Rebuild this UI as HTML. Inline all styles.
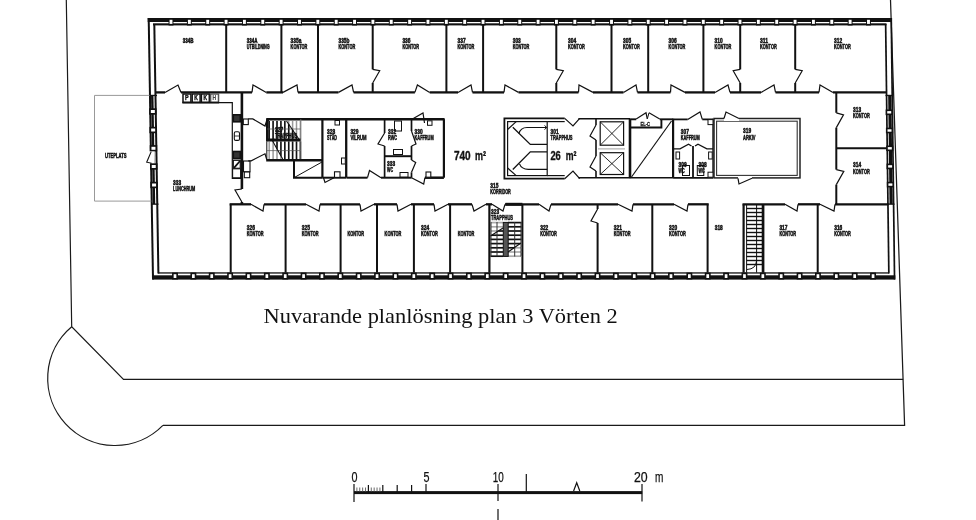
<!DOCTYPE html>
<html><head><meta charset="utf-8"><style>
html,body{margin:0;padding:0;background:#fff;}
svg{display:block;will-change:transform;}
</style></head><body>
<svg width="976" height="520" viewBox="0 0 976 520" style="font-family:'Liberation Sans',sans-serif">
<rect width="976" height="520" fill="#fff"/>
<path d="M66.3,0 L71.7,326.75 L123.5,379.4 L903.2,379.4" fill="none" stroke="#1a1a1a" stroke-width="1.2"/>
<path d="M890.5,0 L904.6,425.4 L162.9,425.4" fill="none" stroke="#1a1a1a" stroke-width="1.25"/>
<path d="M71.7,326.75 A67.25 67.25 0 1 0 162.9,425.4" fill="none" stroke="#1a1a1a" stroke-width="1.2"/>
<rect x="147.7" y="18" width="744.3" height="4" fill="#111"/>
<rect x="153" y="23.3" width="733.5" height="2.1" fill="#111"/>
<rect x="168.55" y="18.35" width="4.9" height="7.15" fill="#111"/>
<rect x="169.55" y="19.8" width="2.9" height="4.1" fill="#fff"/>
<rect x="186.91" y="18.35" width="4.9" height="7.15" fill="#111"/>
<rect x="187.91" y="19.8" width="2.9" height="4.1" fill="#fff"/>
<rect x="205.26" y="18.35" width="4.9" height="7.15" fill="#111"/>
<rect x="206.26" y="19.8" width="2.9" height="4.1" fill="#fff"/>
<rect x="223.62" y="18.35" width="4.9" height="7.15" fill="#111"/>
<rect x="224.62" y="19.8" width="2.9" height="4.1" fill="#fff"/>
<rect x="241.97" y="18.35" width="4.9" height="7.15" fill="#111"/>
<rect x="242.97" y="19.8" width="2.9" height="4.1" fill="#fff"/>
<rect x="260.32" y="18.35" width="4.9" height="7.15" fill="#111"/>
<rect x="261.32" y="19.8" width="2.9" height="4.1" fill="#fff"/>
<rect x="278.68" y="18.35" width="4.9" height="7.15" fill="#111"/>
<rect x="279.68" y="19.8" width="2.9" height="4.1" fill="#fff"/>
<rect x="297.04" y="18.35" width="4.9" height="7.15" fill="#111"/>
<rect x="298.04" y="19.8" width="2.9" height="4.1" fill="#fff"/>
<rect x="315.39" y="18.35" width="4.9" height="7.15" fill="#111"/>
<rect x="316.39" y="19.8" width="2.9" height="4.1" fill="#fff"/>
<rect x="333.75" y="18.35" width="4.9" height="7.15" fill="#111"/>
<rect x="334.75" y="19.8" width="2.9" height="4.1" fill="#fff"/>
<rect x="352.1" y="18.35" width="4.9" height="7.15" fill="#111"/>
<rect x="353.1" y="19.8" width="2.9" height="4.1" fill="#fff"/>
<rect x="370.45" y="18.35" width="4.9" height="7.15" fill="#111"/>
<rect x="371.45" y="19.8" width="2.9" height="4.1" fill="#fff"/>
<rect x="388.81" y="18.35" width="4.9" height="7.15" fill="#111"/>
<rect x="389.81" y="19.8" width="2.9" height="4.1" fill="#fff"/>
<rect x="407.17" y="18.35" width="4.9" height="7.15" fill="#111"/>
<rect x="408.17" y="19.8" width="2.9" height="4.1" fill="#fff"/>
<rect x="425.52" y="18.35" width="4.9" height="7.15" fill="#111"/>
<rect x="426.52" y="19.8" width="2.9" height="4.1" fill="#fff"/>
<rect x="443.88" y="18.35" width="4.9" height="7.15" fill="#111"/>
<rect x="444.88" y="19.8" width="2.9" height="4.1" fill="#fff"/>
<rect x="462.23" y="18.35" width="4.9" height="7.15" fill="#111"/>
<rect x="463.23" y="19.8" width="2.9" height="4.1" fill="#fff"/>
<rect x="480.59" y="18.35" width="4.9" height="7.15" fill="#111"/>
<rect x="481.59" y="19.8" width="2.9" height="4.1" fill="#fff"/>
<rect x="498.94" y="18.35" width="4.9" height="7.15" fill="#111"/>
<rect x="499.94" y="19.8" width="2.9" height="4.1" fill="#fff"/>
<rect x="517.29" y="18.35" width="4.9" height="7.15" fill="#111"/>
<rect x="518.29" y="19.8" width="2.9" height="4.1" fill="#fff"/>
<rect x="535.65" y="18.35" width="4.9" height="7.15" fill="#111"/>
<rect x="536.65" y="19.8" width="2.9" height="4.1" fill="#fff"/>
<rect x="554" y="18.35" width="4.9" height="7.15" fill="#111"/>
<rect x="555" y="19.8" width="2.9" height="4.1" fill="#fff"/>
<rect x="572.36" y="18.35" width="4.9" height="7.15" fill="#111"/>
<rect x="573.36" y="19.8" width="2.9" height="4.1" fill="#fff"/>
<rect x="590.71" y="18.35" width="4.9" height="7.15" fill="#111"/>
<rect x="591.71" y="19.8" width="2.9" height="4.1" fill="#fff"/>
<rect x="609.07" y="18.35" width="4.9" height="7.15" fill="#111"/>
<rect x="610.07" y="19.8" width="2.9" height="4.1" fill="#fff"/>
<rect x="627.42" y="18.35" width="4.9" height="7.15" fill="#111"/>
<rect x="628.42" y="19.8" width="2.9" height="4.1" fill="#fff"/>
<rect x="645.78" y="18.35" width="4.9" height="7.15" fill="#111"/>
<rect x="646.78" y="19.8" width="2.9" height="4.1" fill="#fff"/>
<rect x="664.13" y="18.35" width="4.9" height="7.15" fill="#111"/>
<rect x="665.13" y="19.8" width="2.9" height="4.1" fill="#fff"/>
<rect x="682.49" y="18.35" width="4.9" height="7.15" fill="#111"/>
<rect x="683.49" y="19.8" width="2.9" height="4.1" fill="#fff"/>
<rect x="700.84" y="18.35" width="4.9" height="7.15" fill="#111"/>
<rect x="701.84" y="19.8" width="2.9" height="4.1" fill="#fff"/>
<rect x="719.2" y="18.35" width="4.9" height="7.15" fill="#111"/>
<rect x="720.2" y="19.8" width="2.9" height="4.1" fill="#fff"/>
<rect x="737.55" y="18.35" width="4.9" height="7.15" fill="#111"/>
<rect x="738.55" y="19.8" width="2.9" height="4.1" fill="#fff"/>
<rect x="755.91" y="18.35" width="4.9" height="7.15" fill="#111"/>
<rect x="756.91" y="19.8" width="2.9" height="4.1" fill="#fff"/>
<rect x="774.26" y="18.35" width="4.9" height="7.15" fill="#111"/>
<rect x="775.26" y="19.8" width="2.9" height="4.1" fill="#fff"/>
<rect x="792.62" y="18.35" width="4.9" height="7.15" fill="#111"/>
<rect x="793.62" y="19.8" width="2.9" height="4.1" fill="#fff"/>
<rect x="810.98" y="18.35" width="4.9" height="7.15" fill="#111"/>
<rect x="811.98" y="19.8" width="2.9" height="4.1" fill="#fff"/>
<rect x="829.33" y="18.35" width="4.9" height="7.15" fill="#111"/>
<rect x="830.33" y="19.8" width="2.9" height="4.1" fill="#fff"/>
<rect x="847.68" y="18.35" width="4.9" height="7.15" fill="#111"/>
<rect x="848.68" y="19.8" width="2.9" height="4.1" fill="#fff"/>
<rect x="866.04" y="18.35" width="4.9" height="7.15" fill="#111"/>
<rect x="867.04" y="19.8" width="2.9" height="4.1" fill="#fff"/>
<rect x="158" y="272.3" width="731" height="1.3" fill="#111"/>
<rect x="152.3" y="275.3" width="743" height="4.3" fill="#111"/>
<rect x="172.05" y="272.6" width="5.9" height="6.9" fill="#111"/>
<rect x="173.65" y="274.2" width="2.7" height="3.8" fill="#fff"/>
<rect x="190.42" y="272.6" width="5.9" height="6.9" fill="#111"/>
<rect x="192.02" y="274.2" width="2.7" height="3.8" fill="#fff"/>
<rect x="208.79" y="272.6" width="5.9" height="6.9" fill="#111"/>
<rect x="210.39" y="274.2" width="2.7" height="3.8" fill="#fff"/>
<rect x="227.16" y="272.6" width="5.9" height="6.9" fill="#111"/>
<rect x="228.76" y="274.2" width="2.7" height="3.8" fill="#fff"/>
<rect x="245.53" y="272.6" width="5.9" height="6.9" fill="#111"/>
<rect x="247.13" y="274.2" width="2.7" height="3.8" fill="#fff"/>
<rect x="263.9" y="272.6" width="5.9" height="6.9" fill="#111"/>
<rect x="265.5" y="274.2" width="2.7" height="3.8" fill="#fff"/>
<rect x="282.27" y="272.6" width="5.9" height="6.9" fill="#111"/>
<rect x="283.87" y="274.2" width="2.7" height="3.8" fill="#fff"/>
<rect x="300.64" y="272.6" width="5.9" height="6.9" fill="#111"/>
<rect x="302.24" y="274.2" width="2.7" height="3.8" fill="#fff"/>
<rect x="319.01" y="272.6" width="5.9" height="6.9" fill="#111"/>
<rect x="320.61" y="274.2" width="2.7" height="3.8" fill="#fff"/>
<rect x="337.38" y="272.6" width="5.9" height="6.9" fill="#111"/>
<rect x="338.98" y="274.2" width="2.7" height="3.8" fill="#fff"/>
<rect x="355.75" y="272.6" width="5.9" height="6.9" fill="#111"/>
<rect x="357.35" y="274.2" width="2.7" height="3.8" fill="#fff"/>
<rect x="374.12" y="272.6" width="5.9" height="6.9" fill="#111"/>
<rect x="375.72" y="274.2" width="2.7" height="3.8" fill="#fff"/>
<rect x="392.49" y="272.6" width="5.9" height="6.9" fill="#111"/>
<rect x="394.09" y="274.2" width="2.7" height="3.8" fill="#fff"/>
<rect x="410.86" y="272.6" width="5.9" height="6.9" fill="#111"/>
<rect x="412.46" y="274.2" width="2.7" height="3.8" fill="#fff"/>
<rect x="429.23" y="272.6" width="5.9" height="6.9" fill="#111"/>
<rect x="430.83" y="274.2" width="2.7" height="3.8" fill="#fff"/>
<rect x="447.6" y="272.6" width="5.9" height="6.9" fill="#111"/>
<rect x="449.2" y="274.2" width="2.7" height="3.8" fill="#fff"/>
<rect x="465.97" y="272.6" width="5.9" height="6.9" fill="#111"/>
<rect x="467.57" y="274.2" width="2.7" height="3.8" fill="#fff"/>
<rect x="484.34" y="272.6" width="5.9" height="6.9" fill="#111"/>
<rect x="485.94" y="274.2" width="2.7" height="3.8" fill="#fff"/>
<rect x="502.71" y="272.6" width="5.9" height="6.9" fill="#111"/>
<rect x="504.31" y="274.2" width="2.7" height="3.8" fill="#fff"/>
<rect x="521.08" y="272.6" width="5.9" height="6.9" fill="#111"/>
<rect x="522.68" y="274.2" width="2.7" height="3.8" fill="#fff"/>
<rect x="539.45" y="272.6" width="5.9" height="6.9" fill="#111"/>
<rect x="541.05" y="274.2" width="2.7" height="3.8" fill="#fff"/>
<rect x="557.82" y="272.6" width="5.9" height="6.9" fill="#111"/>
<rect x="559.42" y="274.2" width="2.7" height="3.8" fill="#fff"/>
<rect x="576.19" y="272.6" width="5.9" height="6.9" fill="#111"/>
<rect x="577.79" y="274.2" width="2.7" height="3.8" fill="#fff"/>
<rect x="594.56" y="272.6" width="5.9" height="6.9" fill="#111"/>
<rect x="596.16" y="274.2" width="2.7" height="3.8" fill="#fff"/>
<rect x="612.93" y="272.6" width="5.9" height="6.9" fill="#111"/>
<rect x="614.53" y="274.2" width="2.7" height="3.8" fill="#fff"/>
<rect x="631.3" y="272.6" width="5.9" height="6.9" fill="#111"/>
<rect x="632.9" y="274.2" width="2.7" height="3.8" fill="#fff"/>
<rect x="649.67" y="272.6" width="5.9" height="6.9" fill="#111"/>
<rect x="651.27" y="274.2" width="2.7" height="3.8" fill="#fff"/>
<rect x="668.04" y="272.6" width="5.9" height="6.9" fill="#111"/>
<rect x="669.64" y="274.2" width="2.7" height="3.8" fill="#fff"/>
<rect x="686.41" y="272.6" width="5.9" height="6.9" fill="#111"/>
<rect x="688.01" y="274.2" width="2.7" height="3.8" fill="#fff"/>
<rect x="704.78" y="272.6" width="5.9" height="6.9" fill="#111"/>
<rect x="706.38" y="274.2" width="2.7" height="3.8" fill="#fff"/>
<rect x="723.15" y="272.6" width="5.9" height="6.9" fill="#111"/>
<rect x="724.75" y="274.2" width="2.7" height="3.8" fill="#fff"/>
<rect x="741.52" y="272.6" width="5.9" height="6.9" fill="#111"/>
<rect x="743.12" y="274.2" width="2.7" height="3.8" fill="#fff"/>
<rect x="759.89" y="272.6" width="5.9" height="6.9" fill="#111"/>
<rect x="761.49" y="274.2" width="2.7" height="3.8" fill="#fff"/>
<rect x="778.26" y="272.6" width="5.9" height="6.9" fill="#111"/>
<rect x="779.86" y="274.2" width="2.7" height="3.8" fill="#fff"/>
<rect x="796.63" y="272.6" width="5.9" height="6.9" fill="#111"/>
<rect x="798.23" y="274.2" width="2.7" height="3.8" fill="#fff"/>
<rect x="815" y="272.6" width="5.9" height="6.9" fill="#111"/>
<rect x="816.6" y="274.2" width="2.7" height="3.8" fill="#fff"/>
<rect x="833.37" y="272.6" width="5.9" height="6.9" fill="#111"/>
<rect x="834.97" y="274.2" width="2.7" height="3.8" fill="#fff"/>
<rect x="851.74" y="272.6" width="5.9" height="6.9" fill="#111"/>
<rect x="853.34" y="274.2" width="2.7" height="3.8" fill="#fff"/>
<rect x="870.11" y="272.6" width="5.9" height="6.9" fill="#111"/>
<rect x="871.71" y="274.2" width="2.7" height="3.8" fill="#fff"/>
<polygon points="147.7,18 149.7,18 154,279.6 152,279.6" fill="#111"/>
<polygon points="153.3,24 155.3,24 159.4,273.5 157.4,273.5" fill="#111"/>
<polygon points="890.4,18 892.1,18 895.4,279.6 893.7,279.6" fill="#111"/>
<polygon points="884.8,24 886.5,24 889.7,273.5 888,273.5" fill="#111"/>
<polygon points="151.03,95.5 153.43,95.5 155.22,204 152.82,204" fill="#111"/>
<rect x="149.1" y="108.3" width="7.5" height="6.4" fill="#111"/>
<rect x="150.85" y="110" width="4" height="3" fill="#fff"/>
<rect x="149.4" y="126.8" width="7.5" height="6.4" fill="#111"/>
<rect x="151.15" y="128.5" width="4" height="3" fill="#fff"/>
<rect x="149.7" y="145.1" width="7.5" height="6.4" fill="#111"/>
<rect x="151.45" y="146.8" width="4" height="3" fill="#fff"/>
<rect x="150" y="163.3" width="7.5" height="6.4" fill="#111"/>
<rect x="151.75" y="165" width="4" height="3" fill="#fff"/>
<rect x="150.3" y="181.8" width="7.5" height="6.4" fill="#111"/>
<rect x="152.05" y="183.5" width="4" height="3" fill="#fff"/>
<rect x="149.5" y="94.8" width="7.5" height="1.3" fill="#111"/>
<rect x="151" y="203.5" width="7.5" height="1.3" fill="#111"/>
<rect x="149.3" y="151.3" width="5.2" height="12" fill="#fff"/>
<polyline points="151.2,151.6 146.7,162.2 151.6,163.2" stroke="#111" stroke-width="1.1" fill="none" stroke-linejoin="miter"/>
<polygon points="888.17,95.5 891.37,95.5 892.74,204 889.54,204" fill="#111"/>
<rect x="885.61" y="109.5" width="7.2" height="5.6" fill="#111"/>
<rect x="887.21" y="111.1" width="4" height="2.4" fill="#fff"/>
<rect x="885.91" y="127.7" width="7.2" height="5.6" fill="#111"/>
<rect x="887.51" y="129.3" width="4" height="2.4" fill="#fff"/>
<rect x="886.2" y="145.5" width="7.2" height="5.6" fill="#111"/>
<rect x="887.8" y="147.1" width="4" height="2.4" fill="#fff"/>
<rect x="886.5" y="163.6" width="7.2" height="5.6" fill="#111"/>
<rect x="888.1" y="165.2" width="4" height="2.4" fill="#fff"/>
<rect x="886.8" y="181.8" width="7.2" height="5.6" fill="#111"/>
<rect x="888.4" y="183.4" width="4" height="2.4" fill="#fff"/>
<rect x="885.5" y="94.8" width="7.5" height="1.3" fill="#111"/>
<rect x="887" y="203.5" width="7.5" height="1.3" fill="#111"/>
<line x1="155.5" y1="92.4" x2="165" y2="92.4" stroke="#111" stroke-width="2.3"/>
<polyline points="165,92.4 178,85 181,92.4" stroke="#111" stroke-width="1.2" fill="none" stroke-linejoin="miter"/>
<line x1="181" y1="92.4" x2="252" y2="92.4" stroke="#111" stroke-width="2.3"/>
<polyline points="252,92.4 253,85 266.3,92.4" stroke="#111" stroke-width="1.2" fill="none" stroke-linejoin="miter"/>
<line x1="266.3" y1="92.4" x2="283" y2="92.4" stroke="#111" stroke-width="2.3"/>
<polyline points="283,92.4 297,85 298,92.4" stroke="#111" stroke-width="1.2" fill="none" stroke-linejoin="miter"/>
<line x1="298" y1="92.4" x2="338.5" y2="92.4" stroke="#111" stroke-width="2.3"/>
<polyline points="338.5,92.4 352,85 353.6,92.4" stroke="#111" stroke-width="1.2" fill="none" stroke-linejoin="miter"/>
<line x1="353.6" y1="92.4" x2="414.9" y2="92.4" stroke="#111" stroke-width="2.3"/>
<polyline points="414.9,92.4 417.4,85 429.7,92.4" stroke="#111" stroke-width="1.2" fill="none" stroke-linejoin="miter"/>
<line x1="429.7" y1="92.4" x2="458" y2="92.4" stroke="#111" stroke-width="2.3"/>
<polyline points="458,92.4 471,85 472.5,92.4" stroke="#111" stroke-width="1.2" fill="none" stroke-linejoin="miter"/>
<line x1="472.5" y1="92.4" x2="504" y2="92.4" stroke="#111" stroke-width="2.3"/>
<polyline points="504,92.4 505,85 518.5,92.4" stroke="#111" stroke-width="1.2" fill="none" stroke-linejoin="miter"/>
<line x1="518.5" y1="92.4" x2="578.5" y2="92.4" stroke="#111" stroke-width="2.3"/>
<polyline points="578.5,92.4 579,85 593,92.4" stroke="#111" stroke-width="1.2" fill="none" stroke-linejoin="miter"/>
<line x1="593" y1="92.4" x2="623.5" y2="92.4" stroke="#111" stroke-width="2.3"/>
<polyline points="623.5,92.4 636,85 637.5,92.4" stroke="#111" stroke-width="1.2" fill="none" stroke-linejoin="miter"/>
<line x1="637.5" y1="92.4" x2="670.5" y2="92.4" stroke="#111" stroke-width="2.3"/>
<polyline points="670.5,92.4 671,85 685,92.4" stroke="#111" stroke-width="1.2" fill="none" stroke-linejoin="miter"/>
<line x1="685" y1="92.4" x2="715" y2="92.4" stroke="#111" stroke-width="2.3"/>
<polyline points="715,92.4 728,85 730,92.4" stroke="#111" stroke-width="1.2" fill="none" stroke-linejoin="miter"/>
<line x1="730" y1="92.4" x2="761" y2="92.4" stroke="#111" stroke-width="2.3"/>
<polyline points="761,92.4 774,85 775.5,92.4" stroke="#111" stroke-width="1.2" fill="none" stroke-linejoin="miter"/>
<line x1="775.5" y1="92.4" x2="819" y2="92.4" stroke="#111" stroke-width="2.3"/>
<polyline points="819,92.4 820,85 833,92.4" stroke="#111" stroke-width="1.2" fill="none" stroke-linejoin="miter"/>
<line x1="833" y1="92.4" x2="886" y2="92.4" stroke="#111" stroke-width="2.3"/>
<line x1="226.2" y1="24.5" x2="226.2" y2="92.4" stroke="#111" stroke-width="2"/>
<line x1="281.4" y1="24.5" x2="281.4" y2="92.4" stroke="#111" stroke-width="2"/>
<line x1="318" y1="24.5" x2="318" y2="92.4" stroke="#111" stroke-width="2"/>
<line x1="446.4" y1="24.5" x2="446.4" y2="92.4" stroke="#111" stroke-width="2"/>
<line x1="483.1" y1="24.5" x2="483.1" y2="92.4" stroke="#111" stroke-width="2"/>
<line x1="611.5" y1="24.5" x2="611.5" y2="92.4" stroke="#111" stroke-width="2"/>
<line x1="648.2" y1="24.5" x2="648.2" y2="92.4" stroke="#111" stroke-width="2"/>
<line x1="703.4" y1="24.5" x2="703.4" y2="92.4" stroke="#111" stroke-width="2"/>
<line x1="372.7" y1="24.5" x2="372.7" y2="69.4" stroke="#111" stroke-width="2"/>
<line x1="372.7" y1="83" x2="372.7" y2="92.4" stroke="#111" stroke-width="2"/>
<polyline points="372.7,69.4 379.7,70.7 372.7,83" stroke="#111" stroke-width="1.2" fill="none" stroke-linejoin="miter"/>
<line x1="556.3" y1="24.5" x2="556.3" y2="69.4" stroke="#111" stroke-width="2"/>
<line x1="556.3" y1="83" x2="556.3" y2="92.4" stroke="#111" stroke-width="2"/>
<polyline points="556.3,69.4 563.3,70.7 556.3,83" stroke="#111" stroke-width="1.2" fill="none" stroke-linejoin="miter"/>
<line x1="740.2" y1="24.5" x2="740.2" y2="69.4" stroke="#111" stroke-width="2"/>
<line x1="740.2" y1="83" x2="740.2" y2="92.4" stroke="#111" stroke-width="2"/>
<polyline points="740.2,69.4 733.2,70.7 740.2,83" stroke="#111" stroke-width="1.2" fill="none" stroke-linejoin="miter"/>
<line x1="795.2" y1="24.5" x2="795.2" y2="69.4" stroke="#111" stroke-width="2"/>
<line x1="795.2" y1="83" x2="795.2" y2="92.4" stroke="#111" stroke-width="2"/>
<polyline points="795.2,69.4 802.2,70.7 795.2,83" stroke="#111" stroke-width="1.2" fill="none" stroke-linejoin="miter"/>
<line x1="229.6" y1="204.3" x2="251" y2="204.3" stroke="#111" stroke-width="2.3"/>
<polyline points="251,204.3 263,211 264,204.3" stroke="#111" stroke-width="1.2" fill="none" stroke-linejoin="miter"/>
<line x1="264" y1="204.3" x2="306" y2="204.3" stroke="#111" stroke-width="2.3"/>
<polyline points="306,204.3 319,211 320,204.3" stroke="#111" stroke-width="1.2" fill="none" stroke-linejoin="miter"/>
<line x1="320" y1="204.3" x2="360" y2="204.3" stroke="#111" stroke-width="2.3"/>
<polyline points="360,204.3 361,211 374,204.3" stroke="#111" stroke-width="1.2" fill="none" stroke-linejoin="miter"/>
<line x1="374" y1="204.3" x2="397" y2="204.3" stroke="#111" stroke-width="2.3"/>
<polyline points="397,204.3 398,211 411,204.3" stroke="#111" stroke-width="1.2" fill="none" stroke-linejoin="miter"/>
<line x1="411" y1="204.3" x2="434" y2="204.3" stroke="#111" stroke-width="2.3"/>
<polyline points="434,204.3 435,211 448,204.3" stroke="#111" stroke-width="1.2" fill="none" stroke-linejoin="miter"/>
<line x1="448" y1="204.3" x2="472" y2="204.3" stroke="#111" stroke-width="2.3"/>
<polyline points="472,204.3 474,211 486,204.3" stroke="#111" stroke-width="1.2" fill="none" stroke-linejoin="miter"/>
<line x1="486" y1="204.3" x2="492" y2="204.3" stroke="#111" stroke-width="2.3"/>
<polyline points="492,204.3 503,211 505,204.3" stroke="#111" stroke-width="1.2" fill="none" stroke-linejoin="miter"/>
<line x1="505" y1="204.3" x2="539" y2="204.3" stroke="#111" stroke-width="2.3"/>
<polyline points="539,204.3 549,211 551,204.3" stroke="#111" stroke-width="1.2" fill="none" stroke-linejoin="miter"/>
<line x1="551" y1="204.3" x2="618" y2="204.3" stroke="#111" stroke-width="2.3"/>
<polyline points="618,204.3 632,211 633,204.3" stroke="#111" stroke-width="1.2" fill="none" stroke-linejoin="miter"/>
<line x1="633" y1="204.3" x2="674" y2="204.3" stroke="#111" stroke-width="2.3"/>
<polyline points="674,204.3 687,211 688,204.3" stroke="#111" stroke-width="1.2" fill="none" stroke-linejoin="miter"/>
<line x1="688" y1="204.3" x2="708.7" y2="204.3" stroke="#111" stroke-width="2.3"/>
<line x1="742.5" y1="204.3" x2="785" y2="204.3" stroke="#111" stroke-width="2.3"/>
<polyline points="785,204.3 797,211 798,204.3" stroke="#111" stroke-width="1.2" fill="none" stroke-linejoin="miter"/>
<line x1="798" y1="204.3" x2="820" y2="204.3" stroke="#111" stroke-width="2.3"/>
<polyline points="820,204.3 834,211 835,204.3" stroke="#111" stroke-width="1.2" fill="none" stroke-linejoin="miter"/>
<line x1="835" y1="204.3" x2="888.5" y2="204.3" stroke="#111" stroke-width="2.3"/>
<line x1="230.7" y1="204.3" x2="230.7" y2="272.6" stroke="#111" stroke-width="2"/>
<line x1="285.6" y1="204.3" x2="285.6" y2="272.6" stroke="#111" stroke-width="2"/>
<line x1="340.6" y1="204.3" x2="340.6" y2="272.6" stroke="#111" stroke-width="2"/>
<line x1="377" y1="204.3" x2="377" y2="272.6" stroke="#111" stroke-width="2"/>
<line x1="413.9" y1="204.3" x2="413.9" y2="272.6" stroke="#111" stroke-width="2"/>
<line x1="450.1" y1="204.3" x2="450.1" y2="272.6" stroke="#111" stroke-width="2"/>
<line x1="522.4" y1="204.3" x2="522.4" y2="272.6" stroke="#111" stroke-width="2"/>
<line x1="652.3" y1="204.3" x2="652.3" y2="272.6" stroke="#111" stroke-width="2"/>
<line x1="707.6" y1="204.3" x2="707.6" y2="272.6" stroke="#111" stroke-width="2"/>
<line x1="763.4" y1="204.3" x2="763.4" y2="272.6" stroke="#111" stroke-width="2"/>
<line x1="817.7" y1="204.3" x2="817.7" y2="272.6" stroke="#111" stroke-width="2"/>
<line x1="597.6" y1="204.3" x2="597.6" y2="209" stroke="#111" stroke-width="2"/>
<line x1="597.6" y1="223" x2="597.6" y2="272.6" stroke="#111" stroke-width="2"/>
<polyline points="597.6,209 591,221 597.6,223" stroke="#111" stroke-width="1.2" fill="none" stroke-linejoin="miter"/>
<line x1="489.4" y1="204.3" x2="489.4" y2="272.6" stroke="#111" stroke-width="2.2"/>
<line x1="505.5" y1="204.3" x2="522.4" y2="204.3" stroke="#111" stroke-width="3"/>
<line x1="490.5" y1="222.6" x2="503" y2="222.6" stroke="#aaa" stroke-width="1.7"/>
<line x1="508" y1="222.6" x2="521.5" y2="222.6" stroke="#111" stroke-width="1.7"/>
<line x1="490.5" y1="226.8" x2="503" y2="226.8" stroke="#aaa" stroke-width="1.7"/>
<line x1="508" y1="226.8" x2="521.5" y2="226.8" stroke="#111" stroke-width="1.7"/>
<line x1="490.5" y1="231" x2="498.31" y2="231" stroke="#aaa" stroke-width="1.7"/>
<line x1="498.31" y1="231" x2="503" y2="231" stroke="#111" stroke-width="1.7"/>
<line x1="508" y1="231" x2="521.5" y2="231" stroke="#111" stroke-width="1.7"/>
<line x1="490.5" y1="235.2" x2="491.75" y2="235.2" stroke="#aaa" stroke-width="1.7"/>
<line x1="491.75" y1="235.2" x2="503" y2="235.2" stroke="#111" stroke-width="1.7"/>
<line x1="508" y1="235.2" x2="521.5" y2="235.2" stroke="#111" stroke-width="1.7"/>
<line x1="490.5" y1="239.4" x2="503" y2="239.4" stroke="#111" stroke-width="1.7"/>
<line x1="508" y1="239.4" x2="521.5" y2="239.4" stroke="#111" stroke-width="1.7"/>
<line x1="490.5" y1="243.6" x2="503" y2="243.6" stroke="#111" stroke-width="1.7"/>
<line x1="508" y1="243.6" x2="520.13" y2="243.6" stroke="#111" stroke-width="1.7"/>
<line x1="520.13" y1="243.6" x2="521.5" y2="243.6" stroke="#aaa" stroke-width="1.7"/>
<line x1="490.5" y1="247.8" x2="503" y2="247.8" stroke="#111" stroke-width="1.7"/>
<line x1="508" y1="247.8" x2="514.07" y2="247.8" stroke="#111" stroke-width="1.7"/>
<line x1="514.07" y1="247.8" x2="521.5" y2="247.8" stroke="#aaa" stroke-width="1.7"/>
<line x1="490.5" y1="252" x2="503" y2="252" stroke="#111" stroke-width="1.7"/>
<line x1="508" y1="252" x2="508" y2="252" stroke="#111" stroke-width="1.7"/>
<line x1="508" y1="252" x2="521.5" y2="252" stroke="#aaa" stroke-width="1.7"/>
<line x1="490.5" y1="256.2" x2="503" y2="256.2" stroke="#111" stroke-width="1.7"/>
<line x1="508" y1="256.2" x2="521.5" y2="256.2" stroke="#aaa" stroke-width="1.7"/>
<line x1="491" y1="222" x2="491" y2="256.5" stroke="#333" stroke-width="1"/>
<line x1="497" y1="222" x2="497" y2="256.5" stroke="#333" stroke-width="1"/>
<line x1="514.7" y1="222" x2="514.7" y2="256.5" stroke="#333" stroke-width="1"/>
<line x1="521" y1="222" x2="521" y2="256.5" stroke="#333" stroke-width="1"/>
<rect x="503.3" y="222.4" width="4.9" height="34" fill="#555" stroke="#111" stroke-width="1"/>
<line x1="490.5" y1="236" x2="503" y2="228" stroke="#111" stroke-width="1.1"/>
<line x1="508" y1="252" x2="521" y2="243" stroke="#111" stroke-width="1.1"/>
<line x1="743.6" y1="204.3" x2="743.6" y2="272.6" stroke="#111" stroke-width="2.2"/>
<line x1="746.6" y1="204.3" x2="746.6" y2="272.6" stroke="#111" stroke-width="1"/>
<line x1="756.6" y1="204.3" x2="756.6" y2="272.6" stroke="#111" stroke-width="1"/>
<line x1="746.6" y1="208.5" x2="762.5" y2="208.5" stroke="#111" stroke-width="1.4"/>
<line x1="746.6" y1="212.5" x2="762.5" y2="212.5" stroke="#111" stroke-width="1.4"/>
<line x1="746.6" y1="216.5" x2="762.5" y2="216.5" stroke="#111" stroke-width="1.4"/>
<line x1="746.6" y1="220.5" x2="762.5" y2="220.5" stroke="#111" stroke-width="1.4"/>
<line x1="746.6" y1="224.5" x2="762.5" y2="224.5" stroke="#111" stroke-width="1.4"/>
<line x1="746.6" y1="228.5" x2="762.5" y2="228.5" stroke="#111" stroke-width="1.4"/>
<line x1="746.6" y1="232.5" x2="762.5" y2="232.5" stroke="#111" stroke-width="1.4"/>
<line x1="746.6" y1="236.5" x2="762.5" y2="236.5" stroke="#111" stroke-width="1.4"/>
<line x1="746.6" y1="240.5" x2="762.5" y2="240.5" stroke="#111" stroke-width="1.4"/>
<line x1="746.6" y1="244.5" x2="762.5" y2="244.5" stroke="#111" stroke-width="1.4"/>
<line x1="746.6" y1="248.5" x2="762.5" y2="248.5" stroke="#111" stroke-width="1.4"/>
<line x1="746.6" y1="252.5" x2="762.5" y2="252.5" stroke="#111" stroke-width="1.4"/>
<line x1="746.6" y1="256.5" x2="762.5" y2="256.5" stroke="#111" stroke-width="1.4"/>
<line x1="746.6" y1="260.5" x2="762.5" y2="260.5" stroke="#111" stroke-width="1.4"/>
<line x1="746.6" y1="264.5" x2="762.5" y2="264.5" stroke="#111" stroke-width="1.4"/>
<line x1="762.7" y1="204.3" x2="762.7" y2="272.6" stroke="#111" stroke-width="2"/>
<path d="M747,269.5 Q756,269 756.5,261" fill="none" stroke="#111" stroke-width="1"/>
<line x1="836.3" y1="92.4" x2="836.3" y2="112.8" stroke="#111" stroke-width="2"/>
<line x1="836.3" y1="127.6" x2="836.3" y2="169.6" stroke="#111" stroke-width="2"/>
<line x1="836.3" y1="148.3" x2="886.5" y2="148.3" stroke="#111" stroke-width="2"/>
<line x1="836.3" y1="184.6" x2="836.3" y2="204.3" stroke="#111" stroke-width="2"/>
<polyline points="836.3,112.8 843.5,114.8 836.3,127.6" stroke="#111" stroke-width="1.2" fill="none" stroke-linejoin="miter"/>
<polyline points="836.3,169.6 843.8,171.3 836.3,184.6" stroke="#111" stroke-width="1.2" fill="none" stroke-linejoin="miter"/>
<line x1="241.9" y1="92.4" x2="241.9" y2="189" stroke="#111" stroke-width="2.6"/>
<line x1="241.9" y1="202" x2="241.9" y2="204.3" stroke="#111" stroke-width="2.6"/>
<polyline points="241.9,189 235,190 241.9,202" stroke="#111" stroke-width="1.2" fill="none" stroke-linejoin="miter"/>
<rect x="183" y="94" width="7.9" height="8.4" fill="#fff" stroke="#111" stroke-width="1.5"/>
<text x="185" y="100.4" font-family="Liberation Sans" font-size="6.4" font-weight="bold" fill="#111" stroke="#111" stroke-width="0.4" textLength="3.6" lengthAdjust="spacingAndGlyphs">P</text>
<rect x="192.2" y="94" width="7.9" height="8.4" fill="#fff" stroke="#111" stroke-width="1.5"/>
<text x="194.2" y="100.4" font-family="Liberation Sans" font-size="6.4" font-weight="bold" fill="#111" stroke="#111" stroke-width="0.4" textLength="3.6" lengthAdjust="spacingAndGlyphs">K</text>
<rect x="201.4" y="94" width="7.9" height="8.4" fill="#fff" stroke="#111" stroke-width="1.5"/>
<text x="203.4" y="100.4" font-family="Liberation Sans" font-size="6.4" font-weight="bold" fill="#111" stroke="#111" stroke-width="0.4" textLength="3.6" lengthAdjust="spacingAndGlyphs">K</text>
<rect x="210.6" y="94" width="7.9" height="8.4" fill="#fff" stroke="#555" stroke-width="1.5"/>
<text x="212.6" y="100.4" font-family="Liberation Sans" font-size="6.4" font-weight="bold" fill="#444" stroke="#444" stroke-width="0.2" textLength="3.6" lengthAdjust="spacingAndGlyphs">H</text>
<line x1="182.4" y1="102.6" x2="219" y2="102.6" stroke="#111" stroke-width="1.6"/>
<polyline points="219,102.6 232.3,102.6 232.3,178.4 241,178.4" stroke="#111" stroke-width="1.2" fill="none" stroke-linejoin="miter"/>
<rect x="233.3" y="114.8" width="7" height="7" fill="#333" stroke="#111" stroke-width="1.6"/>
<rect x="234.3" y="131.8" width="5.2" height="8.6" rx="1.5" fill="#fff" stroke="#111" stroke-width="1.1"/>
<line x1="234.3" y1="136" x2="239.5" y2="136" stroke="#111" stroke-width="0.8"/>
<rect x="233.3" y="151.5" width="7" height="7" fill="#333" stroke="#111" stroke-width="1.6"/>
<rect x="233.3" y="160.3" width="7" height="8" fill="#fff" stroke="#111" stroke-width="1.2"/>
<line x1="234" y1="167.8" x2="240" y2="161" stroke="#111" stroke-width="1.8"/>
<rect x="232.6" y="168.8" width="8" height="9" fill="#fff" stroke="#111" stroke-width="1.1"/>
<polyline points="149.5,95.4 94.5,95.4 94.5,201.1 151.3,201.1" fill="none" stroke="#999" stroke-width="1"/>
<line x1="266.2" y1="119.2" x2="444.6" y2="119.2" stroke="#111" stroke-width="2.5"/>
<line x1="267.5" y1="119.2" x2="267.5" y2="141" stroke="#111" stroke-width="3"/>
<line x1="266.8" y1="141" x2="266.8" y2="160" stroke="#111" stroke-width="1"/>
<line x1="269.2" y1="121" x2="269.2" y2="139.5" stroke="#999" stroke-width="1.5"/>
<line x1="269.2" y1="141.5" x2="269.2" y2="159" stroke="#999" stroke-width="1.5"/>
<line x1="269.2" y1="121" x2="269.2" y2="139.5" stroke="#111" stroke-width="1.5"/>
<line x1="273.1" y1="121" x2="273.1" y2="139.5" stroke="#999" stroke-width="1.5"/>
<line x1="273.1" y1="141.5" x2="273.1" y2="159" stroke="#999" stroke-width="1.5"/>
<line x1="273.1" y1="121" x2="273.1" y2="139.5" stroke="#111" stroke-width="1.5"/>
<line x1="273.1" y1="141.5" x2="273.1" y2="141.89" stroke="#111" stroke-width="1.5"/>
<line x1="277" y1="121" x2="277" y2="139.5" stroke="#999" stroke-width="1.5"/>
<line x1="277" y1="141.5" x2="277" y2="159" stroke="#999" stroke-width="1.5"/>
<line x1="277" y1="121" x2="277" y2="139.5" stroke="#111" stroke-width="1.5"/>
<line x1="277" y1="141.5" x2="277" y2="148.84" stroke="#111" stroke-width="1.5"/>
<line x1="280.9" y1="121" x2="280.9" y2="139.5" stroke="#999" stroke-width="1.5"/>
<line x1="280.9" y1="141.5" x2="280.9" y2="159" stroke="#999" stroke-width="1.5"/>
<line x1="280.9" y1="121" x2="280.9" y2="139.5" stroke="#111" stroke-width="1.5"/>
<line x1="280.9" y1="141.5" x2="280.9" y2="155.79" stroke="#111" stroke-width="1.5"/>
<line x1="284.8" y1="121" x2="284.8" y2="139.5" stroke="#999" stroke-width="1.5"/>
<line x1="284.8" y1="141.5" x2="284.8" y2="159" stroke="#999" stroke-width="1.5"/>
<line x1="284.8" y1="121" x2="284.8" y2="139.5" stroke="#111" stroke-width="1.5"/>
<line x1="284.8" y1="141.5" x2="284.8" y2="159" stroke="#111" stroke-width="1.5"/>
<line x1="288.7" y1="121" x2="288.7" y2="139.5" stroke="#999" stroke-width="1.5"/>
<line x1="288.7" y1="141.5" x2="288.7" y2="159" stroke="#999" stroke-width="1.5"/>
<line x1="288.7" y1="124.22" x2="288.7" y2="139.5" stroke="#111" stroke-width="1.5"/>
<line x1="288.7" y1="141.5" x2="288.7" y2="159" stroke="#111" stroke-width="1.5"/>
<line x1="292.6" y1="121" x2="292.6" y2="139.5" stroke="#999" stroke-width="1.5"/>
<line x1="292.6" y1="141.5" x2="292.6" y2="159" stroke="#999" stroke-width="1.5"/>
<line x1="292.6" y1="129.92" x2="292.6" y2="139.5" stroke="#111" stroke-width="1.5"/>
<line x1="292.6" y1="141.5" x2="292.6" y2="159" stroke="#111" stroke-width="1.5"/>
<line x1="296.5" y1="121" x2="296.5" y2="139.5" stroke="#999" stroke-width="1.5"/>
<line x1="296.5" y1="141.5" x2="296.5" y2="159" stroke="#999" stroke-width="1.5"/>
<line x1="296.5" y1="135.62" x2="296.5" y2="139.5" stroke="#111" stroke-width="1.5"/>
<line x1="296.5" y1="141.5" x2="296.5" y2="159" stroke="#111" stroke-width="1.5"/>
<line x1="300.4" y1="121" x2="300.4" y2="139.5" stroke="#999" stroke-width="1.5"/>
<line x1="300.4" y1="141.5" x2="300.4" y2="159" stroke="#999" stroke-width="1.5"/>
<line x1="300.4" y1="141.5" x2="300.4" y2="159" stroke="#111" stroke-width="1.5"/>
<line x1="267" y1="129" x2="301" y2="129" stroke="#555" stroke-width="0.7"/>
<line x1="267" y1="150.6" x2="301" y2="150.6" stroke="#555" stroke-width="0.7"/>
<line x1="267" y1="140" x2="301" y2="140" stroke="#111" stroke-width="2.8"/>
<line x1="300.8" y1="119.2" x2="300.8" y2="160" stroke="#777" stroke-width="0.9"/>
<line x1="266.2" y1="160.2" x2="323" y2="160.2" stroke="#111" stroke-width="2.4"/>
<line x1="286.5" y1="121" x2="299.5" y2="140" stroke="#111" stroke-width="1.1"/>
<line x1="272.6" y1="141" x2="282.7" y2="159" stroke="#111" stroke-width="1.1"/>
<line x1="322.4" y1="119.2" x2="322.4" y2="177.7" stroke="#111" stroke-width="2.2"/>
<polyline points="294,160.2 294,177.7 322.4,177.7" stroke="#111" stroke-width="2" fill="none" stroke-linejoin="miter"/>
<line x1="294" y1="177.7" x2="322" y2="162" stroke="#111" stroke-width="1"/>
<rect x="243.3" y="119" width="5" height="5.6" fill="#fff" stroke="#111" stroke-width="1.1"/>
<polyline points="248.2,118.9 252.8,118.9 265,126 266.6,121" stroke="#111" stroke-width="1.2" fill="none" stroke-linejoin="miter"/>
<rect x="243.5" y="161" width="6.5" height="10.8" fill="#fff" stroke="#111" stroke-width="1.1"/>
<rect x="244.3" y="172" width="5.4" height="5.7" fill="#fff" stroke="#111" stroke-width="1.1"/>
<polyline points="248.2,160.8 251.2,160.8 265,153.8 266.6,159" stroke="#111" stroke-width="1.2" fill="none" stroke-linejoin="miter"/>
<line x1="346.2" y1="119.2" x2="346.2" y2="177.7" stroke="#111" stroke-width="2.3"/>
<rect x="335" y="120.5" width="4.5" height="4.5" fill="#fff" stroke="#111" stroke-width="1"/>
<rect x="341.5" y="158" width="3.8" height="6" fill="#fff" stroke="#111" stroke-width="1"/>
<line x1="322.4" y1="177.7" x2="346.2" y2="177.7" stroke="#111" stroke-width="2"/>
<polyline points="323.5,177.7 325,182.5 334,177.7" stroke="#111" stroke-width="1.2" fill="none" stroke-linejoin="miter"/>
<rect x="334.5" y="171.8" width="5.5" height="5.6" fill="#fff" stroke="#111" stroke-width="1.1"/>
<line x1="384.6" y1="119.2" x2="384.6" y2="133" stroke="#111" stroke-width="1.7"/>
<line x1="384.6" y1="146" x2="384.6" y2="177.7" stroke="#111" stroke-width="1.7"/>
<polyline points="384.6,133 378,144 384.6,146" stroke="#111" stroke-width="1.2" fill="none" stroke-linejoin="miter"/>
<polyline points="346.5,177.7 367.5,177.7" stroke="#111" stroke-width="2" fill="none" stroke-linejoin="miter"/>
<polyline points="367.5,177.7 369.5,170.5 381,177.7" stroke="#111" stroke-width="1.2" fill="none" stroke-linejoin="miter"/>
<line x1="381" y1="177.7" x2="411.5" y2="177.7" stroke="#111" stroke-width="2"/>
<line x1="411.5" y1="119.2" x2="411.5" y2="131" stroke="#111" stroke-width="1.7"/>
<line x1="411.5" y1="146" x2="411.5" y2="160" stroke="#111" stroke-width="1.7"/>
<line x1="411.5" y1="172.3" x2="411.5" y2="177.7" stroke="#111" stroke-width="1.7"/>
<polyline points="411.5,131 416,144 411.5,146" stroke="#111" stroke-width="1.2" fill="none" stroke-linejoin="miter"/>
<line x1="384.6" y1="156.2" x2="411.5" y2="156.2" stroke="#111" stroke-width="2"/>
<rect x="394.5" y="121" width="7" height="10" fill="#fff" stroke="#111" stroke-width="1"/>
<rect x="393.5" y="149.5" width="9" height="5" fill="#fff" stroke="#111" stroke-width="1"/>
<rect x="400" y="172.5" width="8" height="4.5" fill="#fff" stroke="#111" stroke-width="1"/>
<polyline points="411.5,160 415.7,162.5 411.5,172.3" stroke="#111" stroke-width="1.2" fill="none" stroke-linejoin="miter"/>
<line x1="443.9" y1="119.2" x2="443.9" y2="177.7" stroke="#111" stroke-width="2.2"/>
<line x1="424.9" y1="177.7" x2="443.9" y2="177.7" stroke="#111" stroke-width="2.5"/>
<polyline points="412,119.2 423,113 424.5,123" stroke="#111" stroke-width="1.2" fill="none" stroke-linejoin="miter"/>
<polyline points="411.5,177.7 423.7,184 424.9,177.7" stroke="#111" stroke-width="1.2" fill="none" stroke-linejoin="miter"/>
<rect x="427.5" y="120.8" width="4.5" height="4.5" fill="#fff" stroke="#111" stroke-width="1"/>
<rect x="426" y="172" width="4.8" height="5.2" fill="#fff" stroke="#111" stroke-width="1.1"/>
<polyline points="564.7,118.4 504.4,118.4 504.4,178.7 564.7,178.7" stroke="#111" stroke-width="1.8" fill="none" stroke-linejoin="miter"/>
<rect x="507.6" y="121.6" width="39.6" height="54" fill="none" stroke="#111" stroke-width="1.2"/>
<line x1="547.2" y1="121.6" x2="564.7" y2="121.6" stroke="#111" stroke-width="1.2"/>
<line x1="547.2" y1="175.6" x2="564.7" y2="175.6" stroke="#111" stroke-width="1.2"/>
<polyline points="512.8,127.2 530.3,144.4 547,144.4" stroke="#111" stroke-width="1.3" fill="none" stroke-linejoin="miter"/>
<polyline points="512.8,169.5 530.3,151.9 547,151.9" stroke="#111" stroke-width="1.3" fill="none" stroke-linejoin="miter"/>
<line x1="507.6" y1="129.5" x2="516.2" y2="121.6" stroke="#111" stroke-width="1.2"/>
<line x1="507.6" y1="168" x2="516.2" y2="175.6" stroke="#111" stroke-width="1.2"/>
<path d="M518.9,133.6 Q520.5,127.5 527,127.5 L546.5,127.5" fill="none" stroke="#111" stroke-width="1.2"/>
<path d="M519.5,163.9 Q521.5,169.3 528.3,169.3 L547.2,169.3" fill="none" stroke="#111" stroke-width="1.2"/>
<polyline points="544.5,125.5 546.8,127.5 544.5,129.5" stroke="#111" stroke-width="1" fill="none" stroke-linejoin="miter"/>
<polyline points="564.7,118.4 573,126 579.7,118.4" stroke="#111" stroke-width="1.2" fill="none" stroke-linejoin="miter"/>
<polyline points="564.7,178.7 573,171 579.7,178.7" stroke="#111" stroke-width="1.2" fill="none" stroke-linejoin="miter"/>
<polyline points="578.4,118.7 629.5,118.7 629.5,177.8 578.4,177.8" stroke="#111" stroke-width="1.6" fill="none" stroke-linejoin="miter"/>
<line x1="596" y1="118.7" x2="596" y2="125" stroke="#111" stroke-width="1.6"/>
<line x1="596" y1="140" x2="596" y2="156" stroke="#111" stroke-width="1.6"/>
<line x1="596" y1="171" x2="596" y2="177.8" stroke="#111" stroke-width="1.6"/>
<polyline points="596,125 590,136 596,140" stroke="#111" stroke-width="1.2" fill="none" stroke-linejoin="miter"/>
<polyline points="596,156 590,167 596,171" stroke="#111" stroke-width="1.2" fill="none" stroke-linejoin="miter"/>
<rect x="600.2" y="121.8" width="23.4" height="23.4" fill="none" stroke="#111" stroke-width="1.2"/>
<line x1="600.2" y1="121.8" x2="623.6" y2="145.2" stroke="#111" stroke-width="0.9"/>
<line x1="623.6" y1="121.8" x2="600.2" y2="145.2" stroke="#111" stroke-width="0.9"/>
<rect x="600.2" y="152.7" width="23.4" height="21.8" fill="none" stroke="#111" stroke-width="1.2"/>
<line x1="600.2" y1="152.7" x2="623.6" y2="174.5" stroke="#111" stroke-width="0.9"/>
<line x1="623.6" y1="152.7" x2="600.2" y2="174.5" stroke="#111" stroke-width="0.9"/>
<line x1="598" y1="148.9" x2="625" y2="148.9" stroke="#888" stroke-width="0.8"/>
<polyline points="630.5,118.7 630.5,177.8 673,177.8" stroke="#111" stroke-width="1.6" fill="none" stroke-linejoin="miter"/>
<line x1="630.5" y1="119.3" x2="636.2" y2="119.3" stroke="#111" stroke-width="1.9"/>
<polyline points="636.2,118.9 646,112.8 647.3,118.9" stroke="#111" stroke-width="1.2" fill="none" stroke-linejoin="miter"/>
<polyline points="649,112.8 659.7,118.9" stroke="#111" stroke-width="1.2" fill="none" stroke-linejoin="miter"/>
<line x1="647.3" y1="118.9" x2="649" y2="112.8" stroke="#111" stroke-width="1"/>
<line x1="659.7" y1="119.3" x2="673" y2="119.3" stroke="#111" stroke-width="1.9"/>
<polyline points="631,127.5 661.4,127.5 661.4,119" stroke="#111" stroke-width="1.9" fill="none" stroke-linejoin="miter"/>
<line x1="631.5" y1="177" x2="671.5" y2="121" stroke="#111" stroke-width="1.2"/>
<text x="640.5" y="125.7" font-family="Liberation Sans" font-size="6.2" font-weight="bold" fill="#111" stroke="#111" stroke-width="0.3" textLength="9.5" lengthAdjust="spacingAndGlyphs">EL-C</text>
<line x1="673.1" y1="118.7" x2="673.1" y2="177.8" stroke="#111" stroke-width="2.2"/>
<line x1="673.1" y1="119.4" x2="687.7" y2="119.4" stroke="#111" stroke-width="1.8"/>
<polyline points="687.7,119.4 700,111.9 702.3,119.4" stroke="#111" stroke-width="1.2" fill="none" stroke-linejoin="miter"/>
<line x1="702.3" y1="119.4" x2="713" y2="119.4" stroke="#111" stroke-width="1.8"/>
<line x1="713" y1="118.7" x2="713" y2="177.8" stroke="#111" stroke-width="1.4"/>
<line x1="673.1" y1="177.8" x2="713" y2="177.8" stroke="#111" stroke-width="1.8"/>
<polyline points="673.1,148.8 680,148.8 688.5,144.2 691.5,146" stroke="#111" stroke-width="1.3" fill="none" stroke-linejoin="miter"/>
<polyline points="713,148.8 706.9,148.8 698,144.2 695,146" stroke="#111" stroke-width="1.3" fill="none" stroke-linejoin="miter"/>
<line x1="693" y1="146" x2="693" y2="177.8" stroke="#111" stroke-width="1.8"/>
<rect x="676" y="152" width="3.6" height="7" fill="#fff" stroke="#111" stroke-width="1"/>
<rect x="708.6" y="152" width="3.6" height="7" fill="#fff" stroke="#111" stroke-width="1"/>
<rect x="682.5" y="165.5" width="7" height="10" fill="#fff" stroke="#111" stroke-width="1"/>
<rect x="697.3" y="165.5" width="6.5" height="10" fill="#fff" stroke="#111" stroke-width="1"/>
<rect x="708" y="172.2" width="5" height="5" fill="#fff" stroke="#111" stroke-width="1"/>
<rect x="708" y="119.6" width="5" height="5" fill="#fff" stroke="#111" stroke-width="1"/>
<rect x="714" y="118.5" width="86" height="59.4" fill="none" stroke="#222" stroke-width="1.5"/>
<rect x="716.6" y="121.2" width="80.6" height="54.2" fill="none" stroke="#333" stroke-width="1.1"/>
<rect x="724" y="116.5" width="15" height="4.5" fill="#fff"/>
<polyline points="724,118.5 726,112 739,118.5" stroke="#111" stroke-width="1.2" fill="none" stroke-linejoin="miter"/>
<rect x="738" y="176.5" width="14" height="4.5" fill="#fff"/>
<polyline points="738,178.3 739,184 752,178.3" stroke="#111" stroke-width="1.2" fill="none" stroke-linejoin="miter"/>
<text x="453.9" y="160.2" font-family="Liberation Sans" font-size="12.8" font-weight="bold" fill="#111" stroke="#111" stroke-width="0.35" textLength="16.8" lengthAdjust="spacingAndGlyphs">740</text>
<text x="475" y="160.2" font-family="Liberation Sans" font-size="13.5" font-weight="bold" fill="#111" stroke="#111" stroke-width="0.35" textLength="11" lengthAdjust="spacingAndGlyphs">m²</text>
<text x="550.4" y="160" font-family="Liberation Sans" font-size="12.3" font-weight="bold" fill="#111" stroke="#111" stroke-width="0.35" textLength="10.4" lengthAdjust="spacingAndGlyphs">26</text>
<text x="565.8" y="160" font-family="Liberation Sans" font-size="13.5" font-weight="bold" fill="#111" stroke="#111" stroke-width="0.35" textLength="10.7" lengthAdjust="spacingAndGlyphs">m²</text>
<text x="246.8" y="43" font-family="Liberation Sans" font-size="6.6" font-weight="bold" fill="#111" stroke="#111" stroke-width="0.5" textLength="10.8" lengthAdjust="spacingAndGlyphs">334A</text>
<text x="246.8" y="49.3" font-family="Liberation Sans" font-size="6.6" font-weight="bold" fill="#111" stroke="#111" stroke-width="0.5" textLength="22.9" lengthAdjust="spacingAndGlyphs">UTBILDNING</text>
<text x="290.6" y="43" font-family="Liberation Sans" font-size="6.6" font-weight="bold" fill="#111" stroke="#111" stroke-width="0.5" textLength="10.8" lengthAdjust="spacingAndGlyphs">335a</text>
<text x="290.6" y="49.3" font-family="Liberation Sans" font-size="6.6" font-weight="bold" fill="#111" stroke="#111" stroke-width="0.5" textLength="16.7" lengthAdjust="spacingAndGlyphs">KONTOR</text>
<text x="338.5" y="43" font-family="Liberation Sans" font-size="6.6" font-weight="bold" fill="#111" stroke="#111" stroke-width="0.5" textLength="10.8" lengthAdjust="spacingAndGlyphs">335b</text>
<text x="338.5" y="49.3" font-family="Liberation Sans" font-size="6.6" font-weight="bold" fill="#111" stroke="#111" stroke-width="0.5" textLength="16.7" lengthAdjust="spacingAndGlyphs">KONTOR</text>
<text x="402.4" y="43" font-family="Liberation Sans" font-size="6.6" font-weight="bold" fill="#111" stroke="#111" stroke-width="0.5" textLength="8.1" lengthAdjust="spacingAndGlyphs">336</text>
<text x="402.4" y="49.3" font-family="Liberation Sans" font-size="6.6" font-weight="bold" fill="#111" stroke="#111" stroke-width="0.5" textLength="16.7" lengthAdjust="spacingAndGlyphs">KONTOR</text>
<text x="457.5" y="43" font-family="Liberation Sans" font-size="6.6" font-weight="bold" fill="#111" stroke="#111" stroke-width="0.5" textLength="8.1" lengthAdjust="spacingAndGlyphs">337</text>
<text x="457.5" y="49.3" font-family="Liberation Sans" font-size="6.6" font-weight="bold" fill="#111" stroke="#111" stroke-width="0.5" textLength="16.7" lengthAdjust="spacingAndGlyphs">KONTOR</text>
<text x="512.7" y="43" font-family="Liberation Sans" font-size="6.6" font-weight="bold" fill="#111" stroke="#111" stroke-width="0.5" textLength="8.1" lengthAdjust="spacingAndGlyphs">303</text>
<text x="512.7" y="49.3" font-family="Liberation Sans" font-size="6.6" font-weight="bold" fill="#111" stroke="#111" stroke-width="0.5" textLength="16.7" lengthAdjust="spacingAndGlyphs">KONTOR</text>
<text x="568" y="43" font-family="Liberation Sans" font-size="6.6" font-weight="bold" fill="#111" stroke="#111" stroke-width="0.5" textLength="8.1" lengthAdjust="spacingAndGlyphs">304</text>
<text x="568" y="49.3" font-family="Liberation Sans" font-size="6.6" font-weight="bold" fill="#111" stroke="#111" stroke-width="0.5" textLength="16.7" lengthAdjust="spacingAndGlyphs">KONTOR</text>
<text x="623" y="43" font-family="Liberation Sans" font-size="6.6" font-weight="bold" fill="#111" stroke="#111" stroke-width="0.5" textLength="8.1" lengthAdjust="spacingAndGlyphs">305</text>
<text x="623" y="49.3" font-family="Liberation Sans" font-size="6.6" font-weight="bold" fill="#111" stroke="#111" stroke-width="0.5" textLength="16.7" lengthAdjust="spacingAndGlyphs">KONTOR</text>
<text x="668.6" y="43" font-family="Liberation Sans" font-size="6.6" font-weight="bold" fill="#111" stroke="#111" stroke-width="0.5" textLength="8.1" lengthAdjust="spacingAndGlyphs">306</text>
<text x="668.6" y="49.3" font-family="Liberation Sans" font-size="6.6" font-weight="bold" fill="#111" stroke="#111" stroke-width="0.5" textLength="16.7" lengthAdjust="spacingAndGlyphs">KONTOR</text>
<text x="714.6" y="43" font-family="Liberation Sans" font-size="6.6" font-weight="bold" fill="#111" stroke="#111" stroke-width="0.5" textLength="8.1" lengthAdjust="spacingAndGlyphs">310</text>
<text x="714.6" y="49.3" font-family="Liberation Sans" font-size="6.6" font-weight="bold" fill="#111" stroke="#111" stroke-width="0.5" textLength="16.7" lengthAdjust="spacingAndGlyphs">KONTOR</text>
<text x="760" y="43" font-family="Liberation Sans" font-size="6.6" font-weight="bold" fill="#111" stroke="#111" stroke-width="0.5" textLength="8.1" lengthAdjust="spacingAndGlyphs">311</text>
<text x="760" y="49.3" font-family="Liberation Sans" font-size="6.6" font-weight="bold" fill="#111" stroke="#111" stroke-width="0.5" textLength="16.7" lengthAdjust="spacingAndGlyphs">KONTOR</text>
<text x="834" y="43" font-family="Liberation Sans" font-size="6.6" font-weight="bold" fill="#111" stroke="#111" stroke-width="0.5" textLength="8.1" lengthAdjust="spacingAndGlyphs">312</text>
<text x="834" y="49.3" font-family="Liberation Sans" font-size="6.6" font-weight="bold" fill="#111" stroke="#111" stroke-width="0.5" textLength="16.7" lengthAdjust="spacingAndGlyphs">KONTOR</text>
<text x="182.7" y="43" font-family="Liberation Sans" font-size="6.6" font-weight="bold" fill="#111" stroke="#111" stroke-width="0.5" textLength="10.8" lengthAdjust="spacingAndGlyphs">334B</text>
<text x="246.8" y="230" font-family="Liberation Sans" font-size="6.6" font-weight="bold" fill="#111" stroke="#111" stroke-width="0.5" textLength="8.1" lengthAdjust="spacingAndGlyphs">326</text>
<text x="246.8" y="236.3" font-family="Liberation Sans" font-size="6.6" font-weight="bold" fill="#111" stroke="#111" stroke-width="0.5" textLength="16.7" lengthAdjust="spacingAndGlyphs">KONTOR</text>
<text x="301.8" y="230" font-family="Liberation Sans" font-size="6.6" font-weight="bold" fill="#111" stroke="#111" stroke-width="0.5" textLength="8.1" lengthAdjust="spacingAndGlyphs">325</text>
<text x="301.8" y="236.3" font-family="Liberation Sans" font-size="6.6" font-weight="bold" fill="#111" stroke="#111" stroke-width="0.5" textLength="16.7" lengthAdjust="spacingAndGlyphs">KONTOR</text>
<text x="347.4" y="236.3" font-family="Liberation Sans" font-size="6.6" font-weight="bold" fill="#111" stroke="#111" stroke-width="0.5" textLength="16.7" lengthAdjust="spacingAndGlyphs">KONTOR</text>
<text x="384.6" y="236.3" font-family="Liberation Sans" font-size="6.6" font-weight="bold" fill="#111" stroke="#111" stroke-width="0.5" textLength="16.7" lengthAdjust="spacingAndGlyphs">KONTOR</text>
<text x="421" y="230" font-family="Liberation Sans" font-size="6.6" font-weight="bold" fill="#111" stroke="#111" stroke-width="0.5" textLength="8.1" lengthAdjust="spacingAndGlyphs">324</text>
<text x="421" y="236.3" font-family="Liberation Sans" font-size="6.6" font-weight="bold" fill="#111" stroke="#111" stroke-width="0.5" textLength="16.7" lengthAdjust="spacingAndGlyphs">KONTOR</text>
<text x="457.7" y="236.3" font-family="Liberation Sans" font-size="6.6" font-weight="bold" fill="#111" stroke="#111" stroke-width="0.5" textLength="16.7" lengthAdjust="spacingAndGlyphs">KONTOR</text>
<text x="540.2" y="230" font-family="Liberation Sans" font-size="6.6" font-weight="bold" fill="#111" stroke="#111" stroke-width="0.5" textLength="8.1" lengthAdjust="spacingAndGlyphs">322</text>
<text x="540.2" y="236.3" font-family="Liberation Sans" font-size="6.6" font-weight="bold" fill="#111" stroke="#111" stroke-width="0.5" textLength="16.7" lengthAdjust="spacingAndGlyphs">KONTOR</text>
<text x="613.8" y="230" font-family="Liberation Sans" font-size="6.6" font-weight="bold" fill="#111" stroke="#111" stroke-width="0.5" textLength="8.1" lengthAdjust="spacingAndGlyphs">321</text>
<text x="613.8" y="236.3" font-family="Liberation Sans" font-size="6.6" font-weight="bold" fill="#111" stroke="#111" stroke-width="0.5" textLength="16.7" lengthAdjust="spacingAndGlyphs">KONTOR</text>
<text x="669" y="230" font-family="Liberation Sans" font-size="6.6" font-weight="bold" fill="#111" stroke="#111" stroke-width="0.5" textLength="8.1" lengthAdjust="spacingAndGlyphs">320</text>
<text x="669" y="236.3" font-family="Liberation Sans" font-size="6.6" font-weight="bold" fill="#111" stroke="#111" stroke-width="0.5" textLength="16.7" lengthAdjust="spacingAndGlyphs">KONTOR</text>
<text x="779.4" y="230" font-family="Liberation Sans" font-size="6.6" font-weight="bold" fill="#111" stroke="#111" stroke-width="0.5" textLength="8.1" lengthAdjust="spacingAndGlyphs">317</text>
<text x="779.4" y="236.3" font-family="Liberation Sans" font-size="6.6" font-weight="bold" fill="#111" stroke="#111" stroke-width="0.5" textLength="16.7" lengthAdjust="spacingAndGlyphs">KONTOR</text>
<text x="834.2" y="230" font-family="Liberation Sans" font-size="6.6" font-weight="bold" fill="#111" stroke="#111" stroke-width="0.5" textLength="8.1" lengthAdjust="spacingAndGlyphs">316</text>
<text x="834.2" y="236.3" font-family="Liberation Sans" font-size="6.6" font-weight="bold" fill="#111" stroke="#111" stroke-width="0.5" textLength="16.7" lengthAdjust="spacingAndGlyphs">KONTOR</text>
<text x="714.8" y="230" font-family="Liberation Sans" font-size="6.6" font-weight="bold" fill="#111" stroke="#111" stroke-width="0.5" textLength="8" lengthAdjust="spacingAndGlyphs">318</text>
<text x="853" y="111.5" font-family="Liberation Sans" font-size="6.6" font-weight="bold" fill="#111" stroke="#111" stroke-width="0.5" textLength="8.1" lengthAdjust="spacingAndGlyphs">313</text>
<text x="853" y="117.8" font-family="Liberation Sans" font-size="6.6" font-weight="bold" fill="#111" stroke="#111" stroke-width="0.5" textLength="16.7" lengthAdjust="spacingAndGlyphs">KONTOR</text>
<text x="853" y="167.3" font-family="Liberation Sans" font-size="6.6" font-weight="bold" fill="#111" stroke="#111" stroke-width="0.5" textLength="8.1" lengthAdjust="spacingAndGlyphs">314</text>
<text x="853" y="173.6" font-family="Liberation Sans" font-size="6.6" font-weight="bold" fill="#111" stroke="#111" stroke-width="0.5" textLength="16.7" lengthAdjust="spacingAndGlyphs">KONTOR</text>
<text x="743" y="133.3" font-family="Liberation Sans" font-size="6.6" font-weight="bold" fill="#111" stroke="#111" stroke-width="0.5" textLength="8.1" lengthAdjust="spacingAndGlyphs">319</text>
<text x="743" y="139.6" font-family="Liberation Sans" font-size="6.6" font-weight="bold" fill="#111" stroke="#111" stroke-width="0.5" textLength="12.5" lengthAdjust="spacingAndGlyphs">ARKIV</text>
<text x="680.8" y="133.8" font-family="Liberation Sans" font-size="6.6" font-weight="bold" fill="#111" stroke="#111" stroke-width="0.5" textLength="8.1" lengthAdjust="spacingAndGlyphs">307</text>
<text x="680.8" y="140.1" font-family="Liberation Sans" font-size="6.6" font-weight="bold" fill="#111" stroke="#111" stroke-width="0.5" textLength="19" lengthAdjust="spacingAndGlyphs">KAFFRUM</text>
<text x="678.5" y="166.5" font-family="Liberation Sans" font-size="6.6" font-weight="bold" fill="#111" stroke="#111" stroke-width="0.5" textLength="8.1" lengthAdjust="spacingAndGlyphs">309</text>
<text x="678.5" y="172.8" font-family="Liberation Sans" font-size="6.6" font-weight="bold" fill="#111" stroke="#111" stroke-width="0.5" textLength="6" lengthAdjust="spacingAndGlyphs">WC</text>
<text x="698.5" y="166.5" font-family="Liberation Sans" font-size="6.6" font-weight="bold" fill="#111" stroke="#111" stroke-width="0.5" textLength="8.1" lengthAdjust="spacingAndGlyphs">308</text>
<text x="698.5" y="172.8" font-family="Liberation Sans" font-size="6.6" font-weight="bold" fill="#111" stroke="#111" stroke-width="0.5" textLength="6" lengthAdjust="spacingAndGlyphs">WC</text>
<text x="550.5" y="133.6" font-family="Liberation Sans" font-size="6.6" font-weight="bold" fill="#111" stroke="#111" stroke-width="0.5" textLength="8.1" lengthAdjust="spacingAndGlyphs">301</text>
<text x="550.5" y="139.9" font-family="Liberation Sans" font-size="6.6" font-weight="bold" fill="#111" stroke="#111" stroke-width="0.5" textLength="22" lengthAdjust="spacingAndGlyphs">TRAPPHUS</text>
<text x="327" y="133.5" font-family="Liberation Sans" font-size="6.6" font-weight="bold" fill="#111" stroke="#111" stroke-width="0.5" textLength="8.1" lengthAdjust="spacingAndGlyphs">328</text>
<text x="327" y="139.8" font-family="Liberation Sans" font-size="6.6" font-weight="bold" fill="#111" stroke="#111" stroke-width="0.5" textLength="10" lengthAdjust="spacingAndGlyphs">STÄD</text>
<text x="350.4" y="133.5" font-family="Liberation Sans" font-size="6.6" font-weight="bold" fill="#111" stroke="#111" stroke-width="0.5" textLength="8.1" lengthAdjust="spacingAndGlyphs">329</text>
<text x="350.4" y="139.8" font-family="Liberation Sans" font-size="6.6" font-weight="bold" fill="#111" stroke="#111" stroke-width="0.5" textLength="16" lengthAdjust="spacingAndGlyphs">VILRUM</text>
<text x="388" y="133.5" font-family="Liberation Sans" font-size="6.6" font-weight="bold" fill="#111" stroke="#111" stroke-width="0.5" textLength="8.1" lengthAdjust="spacingAndGlyphs">332</text>
<text x="388" y="139.8" font-family="Liberation Sans" font-size="6.6" font-weight="bold" fill="#111" stroke="#111" stroke-width="0.5" textLength="9" lengthAdjust="spacingAndGlyphs">RWC</text>
<text x="414.6" y="133.5" font-family="Liberation Sans" font-size="6.6" font-weight="bold" fill="#111" stroke="#111" stroke-width="0.5" textLength="8.1" lengthAdjust="spacingAndGlyphs">330</text>
<text x="414.6" y="139.8" font-family="Liberation Sans" font-size="6.6" font-weight="bold" fill="#111" stroke="#111" stroke-width="0.5" textLength="19" lengthAdjust="spacingAndGlyphs">KAFFRUM</text>
<text x="387" y="165.8" font-family="Liberation Sans" font-size="6.6" font-weight="bold" fill="#111" stroke="#111" stroke-width="0.5" textLength="8.1" lengthAdjust="spacingAndGlyphs">333</text>
<text x="387" y="172.1" font-family="Liberation Sans" font-size="6.6" font-weight="bold" fill="#111" stroke="#111" stroke-width="0.5" textLength="6" lengthAdjust="spacingAndGlyphs">WC</text>
<text x="275" y="132" font-family="Liberation Sans" font-size="6.6" font-weight="bold" fill="#111" stroke="#111" stroke-width="0.5" textLength="8.1" lengthAdjust="spacingAndGlyphs">327</text>
<text x="275" y="138.3" font-family="Liberation Sans" font-size="6.6" font-weight="bold" fill="#111" stroke="#111" stroke-width="0.5" textLength="22" lengthAdjust="spacingAndGlyphs">TRAPPHUS</text>
<text x="490.3" y="188" font-family="Liberation Sans" font-size="6.6" font-weight="bold" fill="#111" stroke="#111" stroke-width="0.5" textLength="8.1" lengthAdjust="spacingAndGlyphs">315</text>
<text x="490.3" y="194.3" font-family="Liberation Sans" font-size="6.6" font-weight="bold" fill="#111" stroke="#111" stroke-width="0.5" textLength="20.5" lengthAdjust="spacingAndGlyphs">KORRIDOR</text>
<text x="173.1" y="185" font-family="Liberation Sans" font-size="6.6" font-weight="bold" fill="#111" stroke="#111" stroke-width="0.5" textLength="8.1" lengthAdjust="spacingAndGlyphs">333</text>
<text x="173.1" y="191.3" font-family="Liberation Sans" font-size="6.6" font-weight="bold" fill="#111" stroke="#111" stroke-width="0.5" textLength="22" lengthAdjust="spacingAndGlyphs">LUNCHRUM</text>
<text x="491" y="214" font-family="Liberation Sans" font-size="6.6" font-weight="bold" fill="#111" stroke="#111" stroke-width="0.5" textLength="8.1" lengthAdjust="spacingAndGlyphs">323</text>
<text x="491" y="220.3" font-family="Liberation Sans" font-size="6.6" font-weight="bold" fill="#111" stroke="#111" stroke-width="0.5" textLength="22" lengthAdjust="spacingAndGlyphs">TRAPPHUS</text>
<text x="104.9" y="157.6" font-family="Liberation Sans" font-size="6.6" font-weight="bold" fill="#111" stroke="#111" stroke-width="0.5" textLength="21.6" lengthAdjust="spacingAndGlyphs">UTEPLATS</text>
<text x="263.6" y="323" font-family="Liberation Serif" font-size="21" font-weight="normal" fill="#111" textLength="354.2" lengthAdjust="spacingAndGlyphs">Nuvarande planlösning plan 3 Vörten 2</text>
<rect x="354" y="491.1" width="288.2" height="3" fill="#111"/>
<line x1="354" y1="484" x2="354" y2="502" stroke="#111" stroke-width="1.2"/>
<line x1="426" y1="484" x2="426" y2="492" stroke="#111" stroke-width="1.2"/>
<line x1="498" y1="484" x2="498" y2="501" stroke="#111" stroke-width="1.2"/>
<line x1="498" y1="509" x2="498" y2="520" stroke="#111" stroke-width="1.2"/>
<line x1="642" y1="484" x2="642" y2="501.5" stroke="#111" stroke-width="1.2"/>
<line x1="368.4" y1="485" x2="368.4" y2="492" stroke="#111" stroke-width="1.2"/>
<line x1="382.8" y1="485" x2="382.8" y2="492" stroke="#111" stroke-width="1.2"/>
<line x1="397.2" y1="485" x2="397.2" y2="492" stroke="#111" stroke-width="1.2"/>
<line x1="411.6" y1="485" x2="411.6" y2="492" stroke="#111" stroke-width="1.2"/>
<line x1="356.88" y1="487.5" x2="356.88" y2="492" stroke="#444" stroke-width="0.8"/>
<line x1="359.76" y1="487.5" x2="359.76" y2="492" stroke="#444" stroke-width="0.8"/>
<line x1="362.64" y1="487.5" x2="362.64" y2="492" stroke="#444" stroke-width="0.8"/>
<line x1="365.52" y1="487.5" x2="365.52" y2="492" stroke="#444" stroke-width="0.8"/>
<line x1="371.28" y1="487.5" x2="371.28" y2="492" stroke="#444" stroke-width="0.8"/>
<line x1="374.16" y1="487.5" x2="374.16" y2="492" stroke="#444" stroke-width="0.8"/>
<line x1="377.04" y1="487.5" x2="377.04" y2="492" stroke="#444" stroke-width="0.8"/>
<line x1="379.92" y1="487.5" x2="379.92" y2="492" stroke="#444" stroke-width="0.8"/>
<line x1="526.3" y1="474" x2="526.3" y2="492" stroke="#111" stroke-width="1.2"/>
<polyline points="573.6,491 576.7,482.8 579.8,491" stroke="#111" stroke-width="1.2" fill="none" stroke-linejoin="miter"/>
<text x="351.5" y="481.6" font-family="Liberation Sans" font-size="14" font-weight="normal" fill="#111" stroke="#111" stroke-width="0.25" textLength="6" lengthAdjust="spacingAndGlyphs">0</text>
<text x="423.4" y="481.6" font-family="Liberation Sans" font-size="14" font-weight="normal" fill="#111" stroke="#111" stroke-width="0.25" textLength="6" lengthAdjust="spacingAndGlyphs">5</text>
<text x="492.8" y="481.6" font-family="Liberation Sans" font-size="14" font-weight="normal" fill="#111" stroke="#111" stroke-width="0.25" textLength="11" lengthAdjust="spacingAndGlyphs">10</text>
<text x="634" y="481.6" font-family="Liberation Sans" font-size="14" font-weight="normal" fill="#111" stroke="#111" stroke-width="0.25" textLength="13.7" lengthAdjust="spacingAndGlyphs">20</text>
<text x="655" y="482" font-family="Liberation Sans" font-size="14.5" font-weight="normal" fill="#111" stroke="#111" stroke-width="0.25" textLength="8.4" lengthAdjust="spacingAndGlyphs">m</text>
</svg>
</body></html>
